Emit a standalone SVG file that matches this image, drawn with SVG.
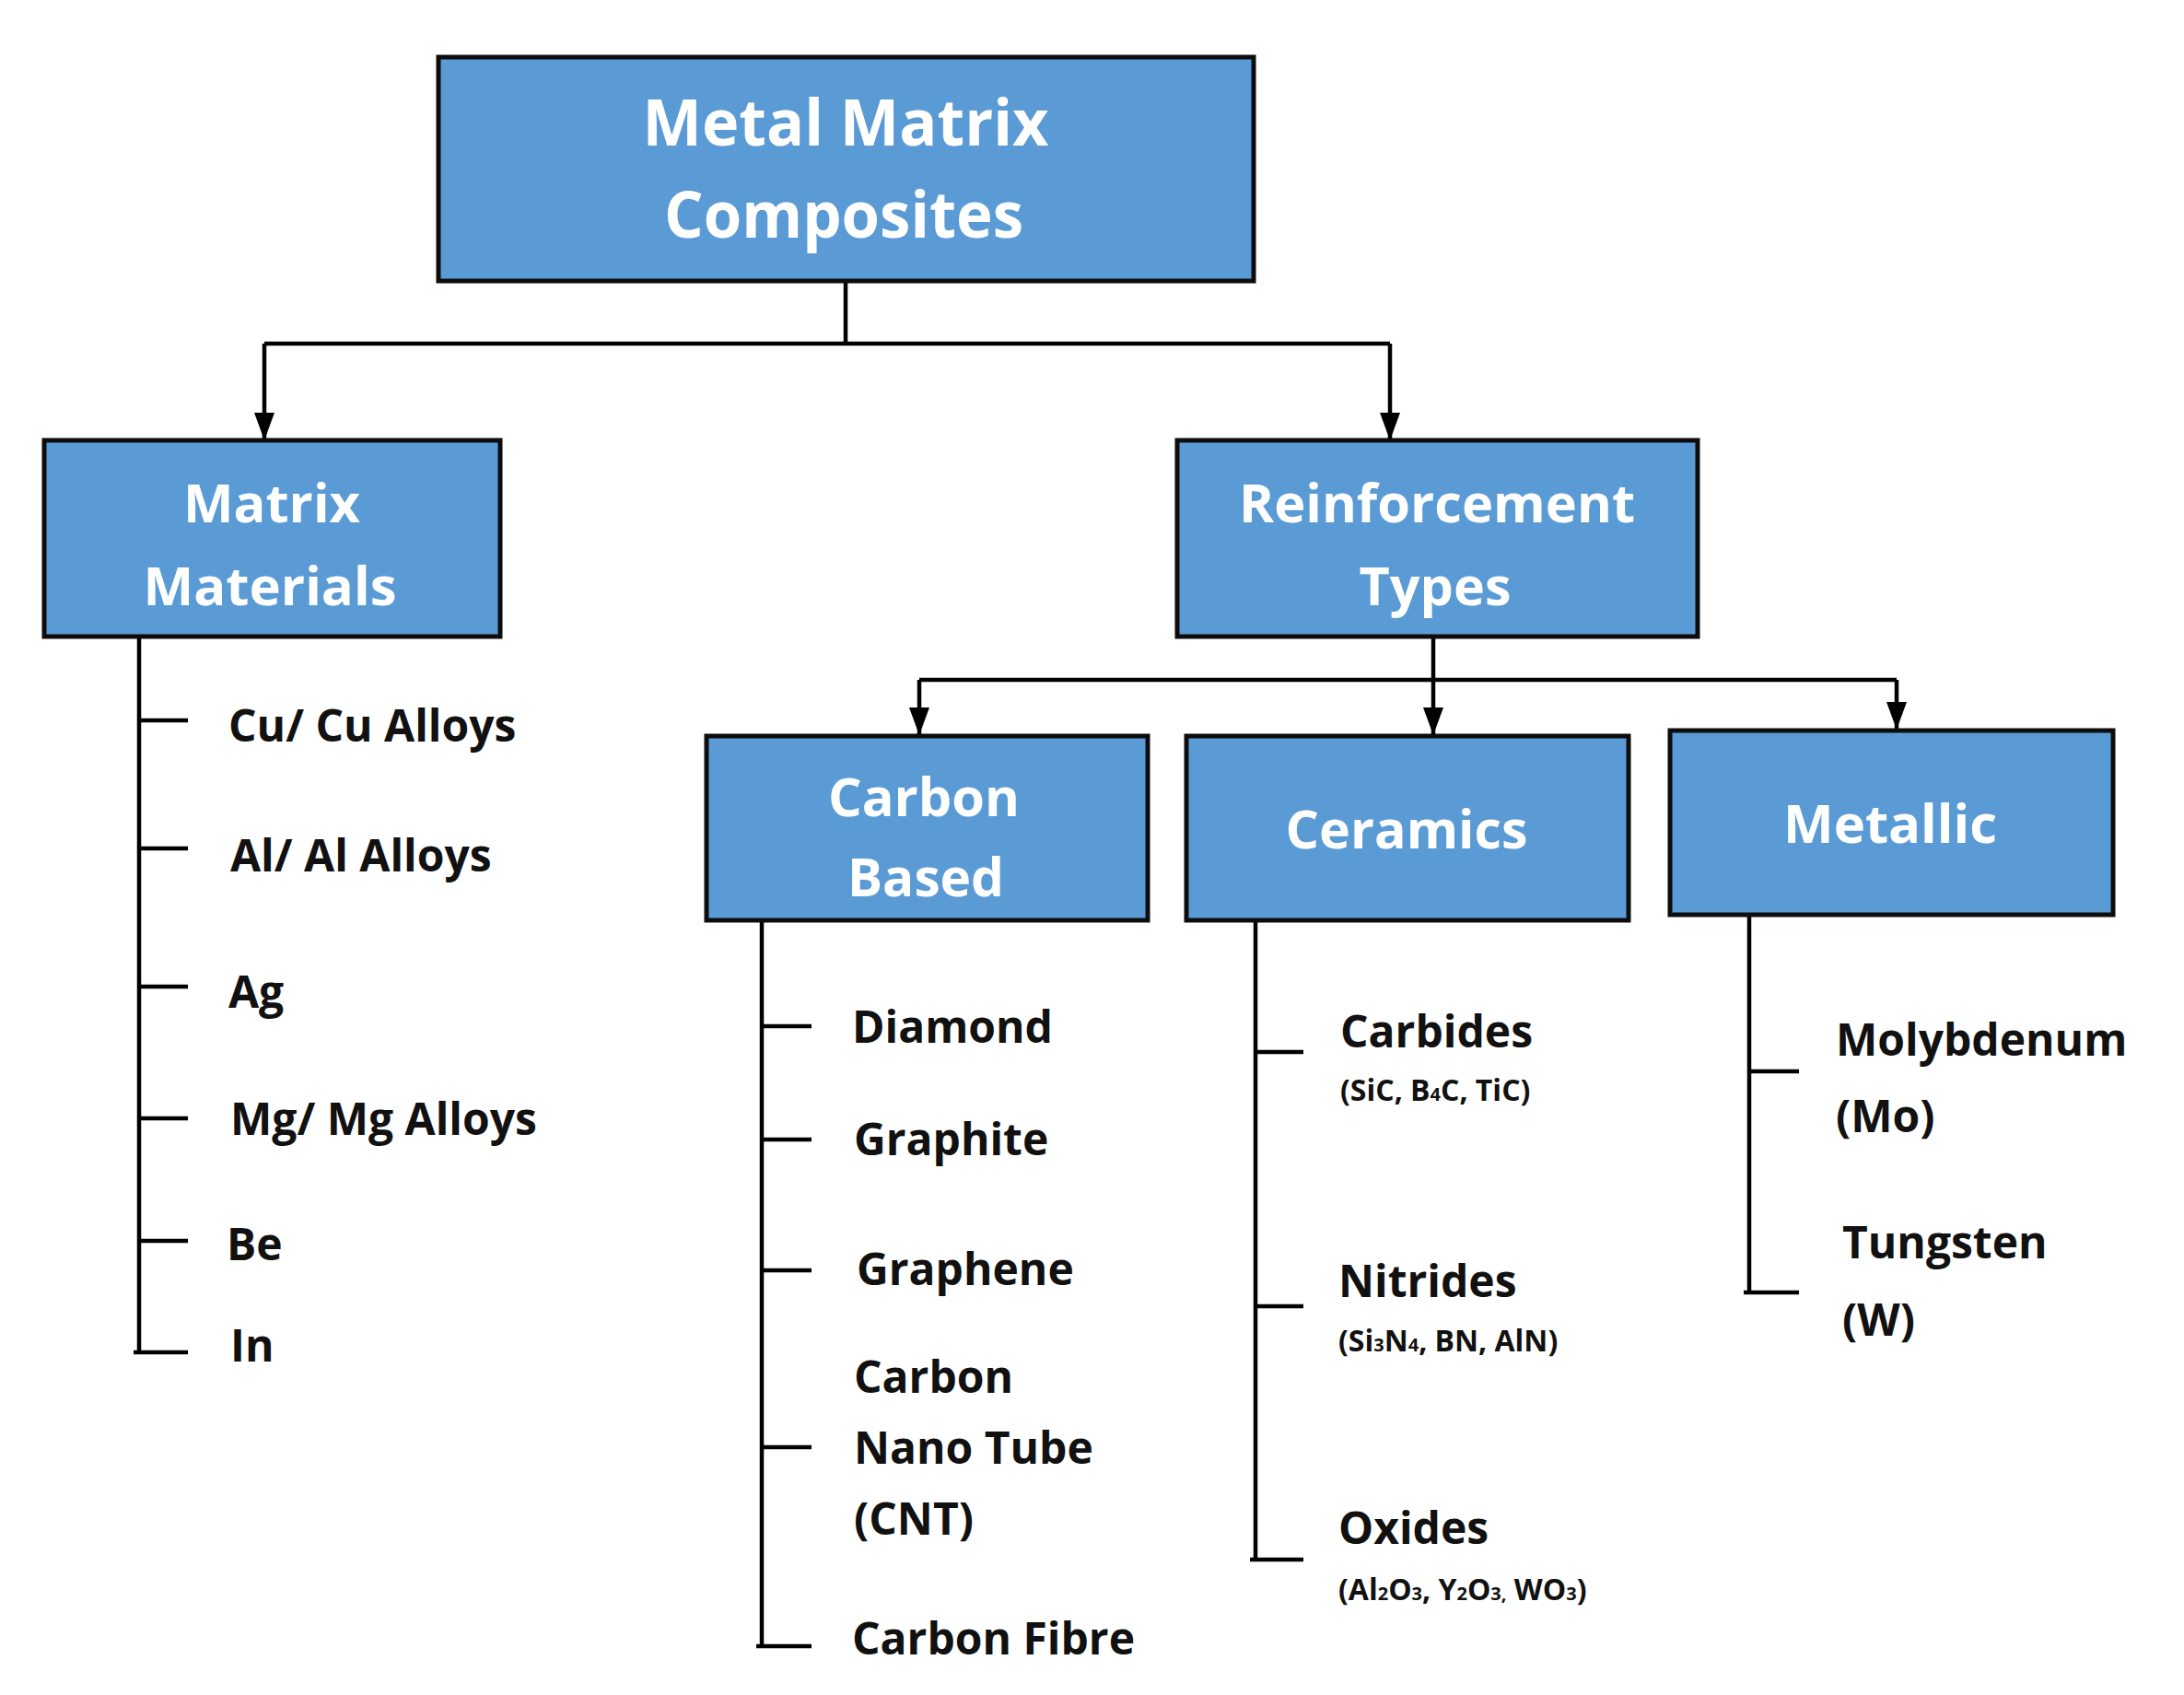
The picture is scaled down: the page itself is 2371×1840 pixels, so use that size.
<svg xmlns="http://www.w3.org/2000/svg" width="2371" height="1840" viewBox="0 0 2371 1840">
<style>
.box{fill:#5B9BD5;stroke:#0d0d0d;stroke-width:5}
.bt{font-family:"Open Sans","DejaVu Sans",sans-serif;font-weight:700;fill:#fff;text-anchor:middle}
.lb{font-family:"Open Sans","DejaVu Sans",sans-serif;font-weight:700;fill:#111;font-size:48px}
.sub{font-family:"Open Sans","DejaVu Sans",sans-serif;font-weight:700;fill:#111;font-size:32px}
.ln{fill:none;stroke:#000;stroke-width:4.5}
.s{font-size:20px}
</style>
<defs><marker id="ar" viewBox="0 0 10 14" refX="10" refY="7" markerWidth="10" markerHeight="14" markerUnits="userSpaceOnUse" orient="auto"><path d="M0,0 L10,7 L0,14 Z" fill="#000"/></marker>
<marker id="arr" viewBox="0 0 30 22" refX="30" refY="11" markerWidth="30" markerHeight="22" markerUnits="userSpaceOnUse" orient="auto"><path d="M0,0 L30,11 L0,22 Z" fill="#000"/></marker></defs>
<rect width="2371" height="1840" fill="#fff"/>
<g id="connectors">
<path class="ln" d="M918,305 V373 M287,373 H1509"/>
<path class="ln" d="M287,373 V478" marker-end="url(#arr)"/>
<path class="ln" d="M1509,373 V478" marker-end="url(#arr)"/>
<path class="ln" d="M998,738 H2059"/>
<path class="ln" d="M1556,692 V798" marker-end="url(#arr)"/>
<path class="ln" d="M998,738 V798" marker-end="url(#arr)"/>
<path class="ln" d="M2059,738 V792" marker-end="url(#arr)"/>
<path class="ln" d="M151,691 V1468 M151,782 H204 M151,921 H204 M151,1071 H204 M151,1214 H204 M151,1347 H204 M145,1468 H204"/>
<path class="ln" d="M827,999 V1787 M827,1114 H881 M827,1237 H881 M827,1379 H881 M827,1571 H881 M821,1787 H881"/>
<path class="ln" d="M1363,999 V1693 M1363,1142 H1415 M1363,1418 H1415 M1357,1693 H1415"/>
<path class="ln" d="M1899,993 V1403 M1899,1163 H1953 M1893,1403 H1953"/>
</g>
<g id="root"><rect class="box" x="476" y="62" width="885" height="243"/>
<text class="bt" x="918" y="158" font-size="70" textLength="441" lengthAdjust="spacingAndGlyphs">Metal Matrix</text>
<text class="bt" x="916" y="258" font-size="70" textLength="390" lengthAdjust="spacingAndGlyphs">Composites</text></g>
<g id="matrix"><rect class="box" x="48" y="478" width="495" height="213"/>
<text class="bt" x="295" y="567" font-size="58" textLength="192" lengthAdjust="spacingAndGlyphs">Matrix</text>
<text class="bt" x="293" y="657" font-size="58" textLength="275" lengthAdjust="spacingAndGlyphs">Materials</text></g>
<g id="reinf"><rect class="box" x="1278" y="478" width="565" height="213"/>
<text class="bt" x="1560" y="567" font-size="58" textLength="430" lengthAdjust="spacingAndGlyphs">Reinforcement</text>
<text class="bt" x="1558" y="657" font-size="58" textLength="165" lengthAdjust="spacingAndGlyphs">Types</text></g>
<g id="carbon"><rect class="box" x="767" y="799" width="479" height="200"/>
<text class="bt" x="1003" y="886" font-size="58" textLength="208" lengthAdjust="spacingAndGlyphs">Carbon</text>
<text class="bt" x="1005" y="973" font-size="58" textLength="170" lengthAdjust="spacingAndGlyphs">Based</text></g>
<g id="ceramics"><rect class="box" x="1288" y="799" width="480" height="200"/>
<text class="bt" x="1527" y="921" font-size="58" textLength="263" lengthAdjust="spacingAndGlyphs">Ceramics</text></g>
<g id="metallic"><rect class="box" x="1813" y="793" width="481" height="200"/>
<text class="bt" x="2052" y="915" font-size="58" textLength="232" lengthAdjust="spacingAndGlyphs">Metallic</text></g>
<g id="matrix-items">
<text class="lb" x="248" y="805">Cu/ Cu Alloys</text>
<text class="lb" x="250" y="946">Al/ Al Alloys</text>
<text class="lb" x="248" y="1094">Ag</text>
<text class="lb" x="250" y="1232">Mg/ Mg Alloys</text>
<text class="lb" x="246" y="1368">Be</text>
<text class="lb" x="250" y="1478">In</text></g>
<g id="carbon-items">
<text class="lb" x="925" y="1132">Diamond</text>
<text class="lb" x="927" y="1254">Graphite</text>
<text class="lb" x="930" y="1395">Graphene</text>
<text class="lb" x="927" y="1512">Carbon</text>
<text class="lb" x="927" y="1589">Nano Tube</text>
<text class="lb" x="927" y="1666">(CNT)</text>
<text class="lb" x="925" y="1796">Carbon Fibre</text></g>
<g id="ceramic-items">
<text class="lb" x="1455" y="1137">Carbides</text>
<text class="sub" x="1455" y="1195">(SiC, B<tspan class="s">4</tspan>C, TiC)</text>
<text class="lb" x="1453" y="1408">Nitrides</text>
<text class="sub" x="1453" y="1467">(Si<tspan class="s">3</tspan>N<tspan class="s">4</tspan>, BN, AlN)</text>
<text class="lb" x="1453" y="1676">Oxides</text>
<text class="sub" x="1453" y="1737">(Al<tspan class="s">2</tspan>O<tspan class="s">3</tspan>, Y<tspan class="s">2</tspan>O<tspan class="s">3,</tspan> WO<tspan class="s">3</tspan>)</text></g>
<g id="metallic-items">
<text class="lb" x="1993" y="1146" font-size="54">Molybdenum</text>
<text class="lb" x="1993" y="1229" font-size="54">(Mo)</text>
<text class="lb" x="2000" y="1366" font-size="54">Tungsten</text>
<text class="lb" x="2000" y="1450" font-size="54">(W)</text></g>
</svg>
